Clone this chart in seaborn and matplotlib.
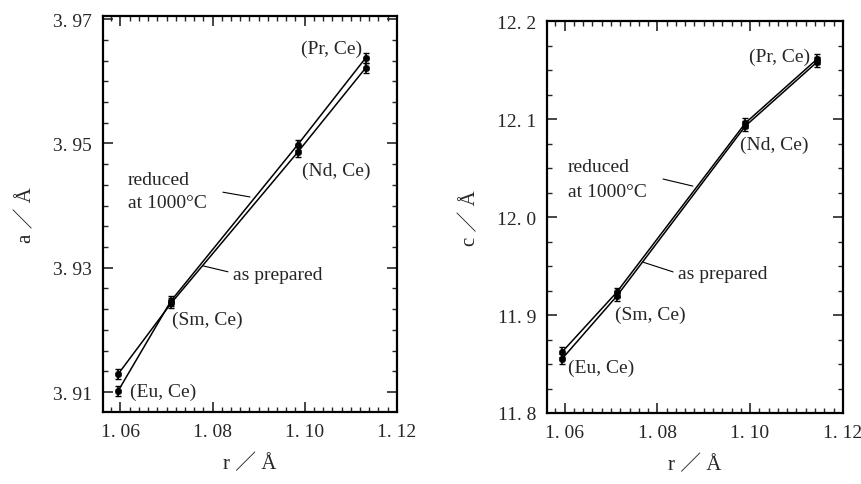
import matplotlib
matplotlib.use("Agg")
import matplotlib.pyplot as plt
import seaborn as sns
import numpy as np
import pandas as pd
from matplotlib.ticker import MultipleLocator, FixedLocator

# ---- data ----
sites = ["(Eu, Ce)", "(Sm, Ce)", "(Nd, Ce)", "(Pr, Ce)"]
r_a = [1.0595, 1.0710, 1.0985, 1.1133]
a_prepared = [3.9129, 3.9243, 3.9486, 3.9622]
a_reduced = [3.9102, 3.9247, 3.9498, 3.9638]
a_err = [0.0008, 0.0008, 0.0008, 0.0008]

r_c = [1.0594, 1.0712, 1.0990, 1.1144]
c_prepared = [11.855, 11.919, 12.093, 12.158]
c_reduced = [11.862, 11.923, 12.096, 12.161]
c_err = [0.005, 0.005, 0.005, 0.005]

x_ticks = [1.06, 1.08, 1.10, 1.12]
x_ticklabels = ["1. 06", "1. 08", "1. 10", "1. 12"]
a_ticks = [3.91, 3.93, 3.95, 3.97]
a_ticklabels = ["3. 91", "3. 93", "3. 95", "3. 97"]
c_ticks = [11.8, 11.9, 12.0, 12.1, 12.2]
c_ticklabels = ["11. 8", "11. 9", "12. 0", "12. 1", "12. 2"]

sns.set_style("ticks")
FAM = ["Liberation Serif", "Noto Sans CJK JP", "DejaVu Serif"]
plt.rcParams["font.family"] = FAM
plt.rcParams["xtick.direction"] = "in"
plt.rcParams["ytick.direction"] = "in"

fig = plt.figure(figsize=(8.61, 4.85), dpi=100)
axL = fig.add_axes([0.1196, 0.1485, 0.3415, 0.8165])
axR = fig.add_axes([0.6353, 0.1464, 0.3438, 0.808])

def draw(ax, r, prep, red, err):
    df = pd.DataFrame({"r": r + r, "v": prep + red,
                       "s": ["as prepared"] * len(r) + ["reduced"] * len(r)})
    sns.lineplot(data=df, x="r", y="v", units="s", estimator=None,
                 color="black", lw=1.1, ax=ax, legend=False, sort=True)
    sns.scatterplot(data=df, x="r", y="v", color="black", s=22,
                    edgecolor="black", ax=ax, legend=False, zorder=3)
    ax.errorbar(r, prep, yerr=err, fmt="none", ecolor="black",
                elinewidth=1.2, capsize=2.5, capthick=1.0)
    ax.errorbar(r, red, yerr=err, fmt="none", ecolor="black",
                elinewidth=1.2, capsize=2.5, capthick=1.0)

draw(axL, r_a, a_prepared, a_reduced, a_err)
draw(axR, r_c, c_prepared, c_reduced, c_err)

FS = 14
for ax in (axL, axR):
    ax.set_xlim(1.0562, 1.12005)
    ax.xaxis.set_major_locator(FixedLocator(x_ticks))
    ax.set_xticklabels(x_ticklabels, fontsize=FS)
    ax.xaxis.set_minor_locator(MultipleLocator(0.002))
    ax.tick_params(which="major", length=7, width=1.2, top=True, right=True, pad=8)
    ax.tick_params(which="minor", length=3.5, width=1.0, top=True, right=True)
    for sp in ax.spines.values():
        sp.set_linewidth(1.6)
        sp.set_color("black")
    ax.set_xlabel("r ／ Å", fontsize=FS + 1, labelpad=10)

axL.set_ylim(3.9068, 3.9705)
axL.yaxis.set_major_locator(FixedLocator(a_ticks))
axL.set_yticklabels(a_ticklabels, fontsize=FS)
axL.yaxis.set_minor_locator(MultipleLocator(0.02 / 6))
axL.set_ylabel("a ／ Å", fontsize=FS + 1, labelpad=12)

axR.set_ylim(11.8, 12.2)
axR.yaxis.set_major_locator(FixedLocator(c_ticks))
axR.set_yticklabels(c_ticklabels, fontsize=FS)
axR.yaxis.set_minor_locator(MultipleLocator(0.025))
axR.set_ylabel("c ／ Å", fontsize=FS + 1, labelpad=12)

# ---- annotations (axes fractions) ----
def txt(ax, x, y, s, ha="left"):
    ax.text(x, y, s, transform=ax.transAxes, fontsize=FS, ha=ha, va="center",
            linespacing=1.0)

def lead(ax, p0, p1):
    ax.plot([p0[0], p1[0]], [p0[1], p1[1]], transform=ax.transAxes,
            color="black", lw=0.8)

txt(axL, 0.881, 0.917, sites[3], ha="right")
txt(axL, 0.677, 0.609, sites[2])
txt(axL, 0.235, 0.235, sites[1])
txt(axL, 0.092, 0.053, sites[0])
txt(axL, 0.085, 0.588, "reduced")
txt(axL, 0.085, 0.530, "at 1000°C")
txt(axL, 0.442, 0.346, "as prepared")
lead(axL, (0.408, 0.555), (0.50, 0.543))
lead(axL, (0.425, 0.354), (0.340, 0.369))

txt(axR, 0.889, 0.911, sites[3], ha="right")
txt(axR, 0.652, 0.686, sites[2])
txt(axR, 0.230, 0.253, sites[1])
txt(axR, 0.071, 0.117, sites[0])
txt(axR, 0.071, 0.628, "reduced")
txt(axR, 0.071, 0.566, "at 1000°C")
txt(axR, 0.443, 0.355, "as prepared")
lead(axR, (0.392, 0.597), (0.493, 0.579))
lead(axR, (0.426, 0.360), (0.324, 0.385))

fig.savefig("out.png", dpi=100)
